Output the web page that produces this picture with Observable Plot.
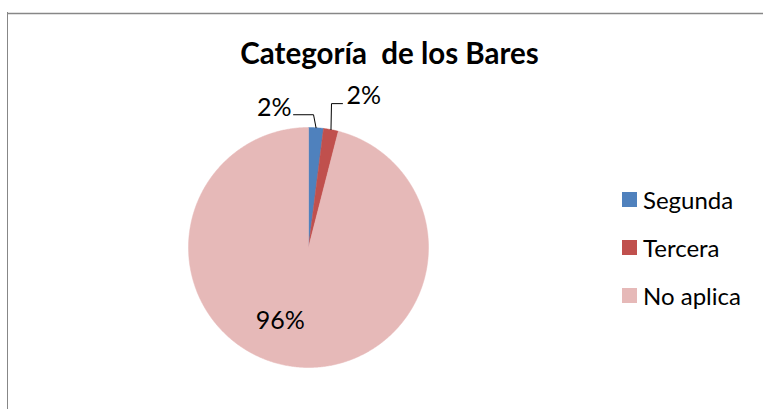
<!DOCTYPE html>
<html>
<head>
<meta charset="utf-8">
<script src="https://cdn.jsdelivr.net/npm/d3@7"></script>
<script src="https://cdn.jsdelivr.net/npm/@observablehq/plot@0.6"></script>
<style>
  html, body { margin: 0; padding: 0; background: #fff; overflow: hidden; }
  body { width: 763px; height: 409px; position: relative; font-family: Lato, "Open Sans", sans-serif; }
  #chart { position: absolute; left: 0; top: 0; }
  #leftline { position: absolute; left: 7.25px; top: 12.25px; width: 0; height: 420px; border-left: 1.5px solid #878787; }
  #legend { position: absolute; left: 622px; top: 175px; }
  .row { height: 48px; display: flex; align-items: center; font-size: 24px; color: #000; }
  .sw { width: 15px; height: 15px; margin-right: 6px; }
</style>
</head>
<body>
<div id="chart"></div>
<div id="leftline"></div>
<div id="legend"></div>
<script>
const title = "Categoría  de los Bares";
const categories = ["Segunda", "Tercera", "No aplica"];
const values = [2, 2, 96];
const labels = ["2%", "2%", "96%"];
const colors = ["#4F81BD", "#C0504D", "#E6B9B8"];

// layout (pixels)
const R = 120;
const labelLayout = [
  {kind: "left",  elbow: [-2.5, -13], end: [-22.5, -13]},
  {kind: "right", elbow: [0.5, -26],  end: [11.5, -26]},
  {kind: "inside", r: 0.62}
];

const arcs = d3.pie().sort(null).value(d => d)(values);

const slicePts = arcs.flatMap((a, i) => {
  const cat = categories[i];
  const n = Math.max(2, Math.ceil((a.endAngle - a.startAngle) / (Math.PI / 360)));
  const pts = [{cat, x: 0, y: 0}];
  for (let k = 0; k <= n; k++) {
    const t = a.startAngle + (a.endAngle - a.startAngle) * k / n;
    pts.push({cat, x: Math.sin(t), y: Math.cos(t)});
  }
  pts.push({cat, x: 0, y: 0});
  return pts;
});

const leaderPts = [];
const labelPts = [];
arcs.forEach((a, i) => {
  const m = (a.startAngle + a.endAngle) / 2;
  const L = labelLayout[i];
  if (L.kind === "inside") {
    labelPts.push({text: labels[i], kind: L.kind, x: Math.sin(m) * L.r, y: Math.cos(m) * L.r});
  } else {
    const ax = Math.sin(m), ay = Math.cos(m);
    const p = (o) => ({id: i, x: ax + o[0] / R, y: ay - o[1] / R});
    leaderPts.push({id: i, x: ax, y: ay}, p(L.elbow), p(L.end));
    const e = p(L.end);
    labelPts.push({text: labels[i], kind: L.kind, x: e.x, y: e.y});
  }
});

const cx = 308, cy = 247;
const chart = Plot.plot({
  width: 763,
  height: 409,
  marginTop: 13,
  marginLeft: 8,
  marginRight: 0,
  marginBottom: 0,
  style: {fontFamily: "Lato, 'Open Sans', sans-serif", background: "transparent"},
  x: {type: "linear", domain: [-1, 1], range: [cx - R, cx + R], axis: null},
  y: {type: "linear", domain: [-1, 1], range: [cy + R, cy - R], axis: null},
  color: {domain: categories, range: colors},
  marks: [
    Plot.frame({anchor: "top", stroke: "#878787", strokeWidth: 1.5}),
    Plot.line(slicePts, {x: "x", y: "y", z: "cat", fill: "cat", stroke: "cat", strokeWidth: 0.5}),
    Plot.line(leaderPts, {x: "x", y: "y", z: "id", stroke: "#000", strokeWidth: 1}),
    Plot.text(labelPts.filter(d => d.kind === "left"), {x: "x", y: "y", text: "text", textAnchor: "end", dx: -2, dy: -7, fontSize: 25, fill: "#000"}),
    Plot.text(labelPts.filter(d => d.kind === "right"), {x: "x", y: "y", text: "text", textAnchor: "start", dx: 4, dy: -8, fontSize: 25, fill: "#000"}),
    Plot.text(labelPts.filter(d => d.kind === "inside"), {x: "x", y: "y", text: "text", textAnchor: "middle", dx: -19, fontSize: 25, fill: "#000"}),
    Plot.text([title], {frameAnchor: "top", dx: 3.5, dy: 50, lineAnchor: "bottom", fontSize: 29.5, fontWeight: "bold", fill: "#000"})
  ]
});
document.getElementById("chart").append(chart);

const legend = document.getElementById("legend");
categories.forEach((c, i) => {
  const row = document.createElement("div");
  row.className = "row";
  const sw = document.createElement("div");
  sw.className = "sw";
  sw.style.background = colors[i];
  const tx = document.createElement("span");
  tx.textContent = c;
  row.append(sw, tx);
  legend.append(row);
});
</script>
</body>
</html>
